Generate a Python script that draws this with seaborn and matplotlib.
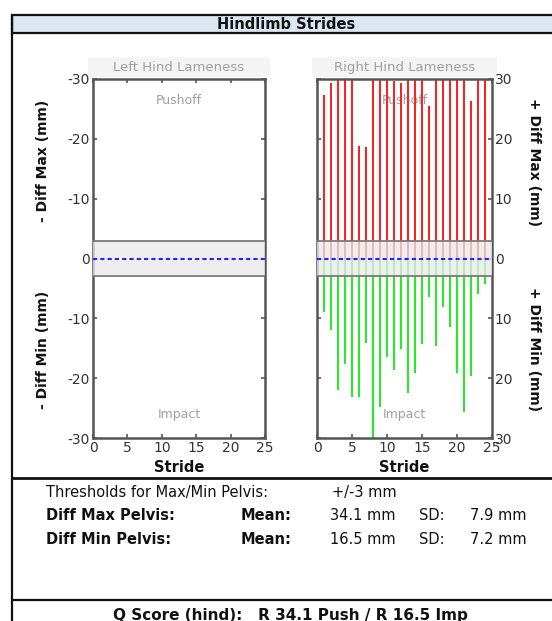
import matplotlib
matplotlib.use("Agg")
import matplotlib.pyplot as plt
import seaborn as sns
import pandas as pd
from matplotlib.patches import Rectangle
from matplotlib.lines import Line2D

# ---------------- data ----------------
strides = [1, 2, 3, 4, 5, 6, 7, 8, 9, 10, 11, 12, 13, 14, 15, 16, 17, 18, 19, 20, 21, 22, 23, 24]
right_diff_max = [27.4, 29.3, 38, 41, 36, 18.8, 18.7, 41, 37, 35, 29.7, 29.3,
                  40, 39, 42, 25.5, 37, 40, 36, 38, 40, 26.4, 35, 39]
right_diff_min = [9.0, 12.0, 22.0, 17.7, 23.2, 23.2, 14.1, 30.5, 24.9, 16.4, 18.7, 15.2,
                  22.4, 19.2, 14.3, 6.4, 14.7, 8.1, 11.4, 19.1, 25.7, 19.7, 5.9, 4.2]
threshold = 3
y_ticks = [-30, -20, -10, 0, 10, 20, 30]
left_tick_labels = ["-30", "-20", "-10", "0", "-10", "-20", "-30"]
right_tick_labels = ["30", "20", "10", "0", "10", "20", "30"]
x_ticks = [0, 5, 10, 15, 20, 25]

summary_rows = [
    ("Diff Max Pelvis:", "Mean:", "34.1 mm", "SD:", "7.9 mm"),
    ("Diff Min Pelvis:", "Mean:", "16.5 mm", "SD:", "7.2 mm"),
]
threshold_label = "Thresholds for Max/Min Pelvis:"
threshold_text = "+/-3 mm"
qscore_text = "Q Score (hind):   R 34.1 Push / R 16.5 Imp"

# ---------------- style ----------------
sns.set_style("white")
plt.rcParams["font.family"] = ["DejaVu Sans"]

W, H = 552, 621
fig = plt.figure(figsize=(W / 100, H / 100), dpi=100)


def fx(px):
    return px / W


def fy(py):
    return 1 - py / H


# frame lines / header
fig.patches.append(Rectangle((fx(12), fy(33)), fx(560) - fx(12), fy(15) - fy(33),
                             transform=fig.transFigure, facecolor="#dce6f1",
                             edgecolor="#111111", lw=1.6))
fig.lines.append(Line2D([fx(12), fx(12)], [fy(15), fy(621)], transform=fig.transFigure,
                        color="#111111", lw=1.6))
fig.lines.append(Line2D([fx(12), fx(552)], [fy(478), fy(478)], transform=fig.transFigure,
                        color="#111111", lw=2.0))
fig.lines.append(Line2D([fx(12), fx(552)], [fy(600), fy(600)], transform=fig.transFigure,
                        color="#111111", lw=1.6))
fig.text(fx(286), fy(24.5), "Hindlimb Strides", ha="center", va="center",
         fontsize=10.5, fontweight="bold", color="#111111")

frame_col = "#555555"
tick_col = "#333333"
band_col = "#e9e9e9"
AX_TOP, AX_BOT = 79, 438


def style_axes(ax, labels, side):
    ax.set_xlim(0, 25)
    ax.set_ylim(-30, 30)
    ax.set_xticks(x_ticks)
    ax.set_xticklabels([str(t) for t in x_ticks])
    ax.set_yticks(y_ticks)
    ax.set_yticklabels(labels)
    ax.tick_params(axis="both", direction="in", length=3, width=1.2, color=frame_col,
                   labelsize=10, labelcolor=tick_col, pad=2,
                   top=True, right=True, left=True, bottom=True)
    if side == "right":
        ax.tick_params(axis="y", labelleft=False, labelright=True)
    for s in ax.spines.values():
        s.set_visible(True)
        s.set_color(frame_col)
        s.set_linewidth(1.8)
    ax.set_xlabel("Stride", fontsize=10.5, fontweight="bold", color="#111111")
    ax.xaxis.label.set_va("center")
    ax.xaxis.set_label_coords(0.5, -(467 - AX_BOT) / (AX_BOT - AX_TOP))
    ax.set_ylabel("")
    # threshold band
    ax.axhspan(-threshold, threshold, facecolor=band_col, alpha=0.75, zorder=3, lw=0)
    ax.axhline(threshold, color="#7a7a7a", lw=1.3, zorder=4)
    ax.axhline(-threshold, color="#7a7a7a", lw=1.3, zorder=4)
    ax.axhline(0, color="#2222ff", lw=1.5, ls=(0, (2, 1.5)), zorder=5)
    ax.text(0.5, 0.94, "Pushoff", transform=ax.transAxes, ha="center", va="center",
            fontsize=9, color="#a0a0a0", zorder=1)
    ax.text(0.5, 0.065, "Impact", transform=ax.transAxes, ha="center", va="center",
            fontsize=9, color="#a0a0a0", zorder=1)


def panel_title(ax, text):
    ax.add_patch(Rectangle((-0.03, 1.006), 1.06, 0.055, transform=ax.transAxes,
                           facecolor="#f4f4f4", edgecolor="none", clip_on=False, zorder=0))
    ax.text(0.5, 1.033, text, transform=ax.transAxes, ha="center", va="center",
            fontsize=9.5, color="#a0a0a0")


ax_l = fig.add_axes([fx(93), fy(AX_BOT), fx(265) - fx(93), fy(AX_TOP) - fy(AX_BOT)])
ax_r = fig.add_axes([fx(317), fy(AX_BOT), fx(492) - fx(317), fy(AX_TOP) - fy(AX_BOT)])

# Right hind bars
df = pd.DataFrame({"stride": strides,
                   "max": right_diff_max,
                   "min_neg": [-v for v in right_diff_min]})
sns.barplot(data=df, x="stride", y="max", native_scale=True, width=0.36,
            color="#ff2020", saturation=1, ax=ax_r, zorder=2, linewidth=0)
sns.barplot(data=df, x="stride", y="min_neg", native_scale=True, width=0.36,
            color="#22ee22", saturation=1, ax=ax_r, zorder=2, linewidth=0)

style_axes(ax_l, left_tick_labels, "left")
style_axes(ax_r, right_tick_labels, "right")
panel_title(ax_l, "Left Hind Lameness")
panel_title(ax_r, "Right Hind Lameness")

# y labels
ylab_fs = 10
fig.text(fx(43), fy(161), "- Diff Max (mm)", rotation=90, ha="center", va="center",
         fontsize=ylab_fs, fontweight="bold", color="#111111")
fig.text(fx(43), fy(350), "- Diff Min (mm)", rotation=90, ha="center", va="center",
         fontsize=ylab_fs, fontweight="bold", color="#111111")
fig.text(fx(534), fy(162), "+ Diff Max (mm)", rotation=270, ha="center", va="center",
         fontsize=ylab_fs, fontweight="bold", color="#111111")
fig.text(fx(534), fy(349), "+ Diff Min (mm)", rotation=270, ha="center", va="center",
         fontsize=ylab_fs, fontweight="bold", color="#111111")

# summary text
fs = 10.5
fig.text(fx(46), fy(492), threshold_label, ha="left", va="center",
         fontsize=fs, color="#111111")
fig.text(fx(332), fy(492), threshold_text, ha="left", va="center", fontsize=fs, color="#111111")
for i, (name, mean_lbl, mean_val, sd_lbl, sd_val) in enumerate(summary_rows):
    yy = fy(515 + i * 25)
    fig.text(fx(46), yy, name, ha="left", va="center", fontsize=fs, fontweight="bold", color="#111111")
    fig.text(fx(241), yy, mean_lbl, ha="left", va="center", fontsize=fs, fontweight="bold", color="#111111")
    fig.text(fx(330), yy, mean_val, ha="left", va="center", fontsize=fs, color="#111111")
    fig.text(fx(419), yy, sd_lbl, ha="left", va="center", fontsize=fs, color="#111111")
    fig.text(fx(470), yy, sd_val, ha="left", va="center", fontsize=fs, color="#111111")

fig.text(fx(290), fy(620), qscore_text, ha="center", va="baseline", fontsize=11,
         fontweight="bold", color="#111111")

fig.savefig("out.png", dpi=100)
